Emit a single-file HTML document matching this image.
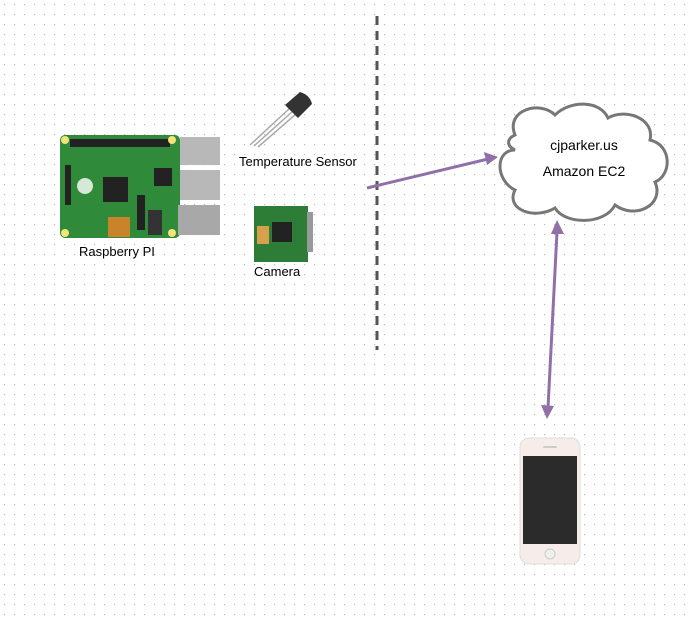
<!DOCTYPE html>
<html><head><style>
body{margin:0;background:#fff;}
svg{display:block;font-family:"Liberation Sans",Arial,sans-serif;}
</style></head><body>
<svg width="691" height="622" viewBox="0 0 691 622">
<defs>
<pattern id="g" width="10" height="10" patternUnits="userSpaceOnUse"><rect x="4" y="4" width="1.2" height="1.2" fill="#bdbdbd"/></pattern>
</defs>
<rect width="691" height="622" fill="#fff"/>
<rect width="691" height="622" fill="url(#g)"/>
<!-- Raspberry Pi -->
<rect x="60" y="135" width="120" height="103" rx="5" fill="#2f8a3a"/>
<rect x="70" y="139" width="100" height="8" fill="#222"/>
<rect x="180" y="137" width="40" height="28" fill="#b8b8b8"/>
<rect x="180" y="170" width="40" height="30" fill="#b8b8b8"/>
<rect x="178" y="205" width="42" height="30" fill="#a8a8a8"/>
<rect x="103" y="177" width="25" height="25" fill="#222"/>
<rect x="154" y="168" width="18" height="18" fill="#222"/>
<rect x="65" y="165" width="6" height="40" fill="#222"/>
<rect x="108" y="217" width="22" height="20" fill="#c9832b"/>
<rect x="137" y="195" width="8" height="35" fill="#222"/>
<rect x="148" y="210" width="14" height="25" fill="#333"/>
<circle cx="85" cy="186" r="8" fill="#d8e8d8"/>
<circle cx="65" cy="140" r="4" fill="#f3e37a"/><circle cx="172" cy="140" r="4" fill="#f3e37a"/>
<circle cx="65" cy="233" r="4" fill="#f3e37a"/><circle cx="172" cy="233" r="4" fill="#f3e37a"/>
<text x="79" y="256" font-size="13">Raspberry PI</text>
<!-- Sensor -->
<line x1="250" y1="145" x2="290" y2="108" stroke="#aaa" stroke-width="1.5"/>
<line x1="254" y1="146" x2="293" y2="111" stroke="#aaa" stroke-width="1.5"/>
<line x1="258" y1="147" x2="296" y2="114" stroke="#aaa" stroke-width="1.5"/>
<path d="M285 105 L300 92 Q310 95 312 104 L298 118 Z" fill="#333"/>
<text x="239" y="166" font-size="13">Temperature Sensor</text>
<!-- Camera -->
<rect x="254" y="206" width="54" height="56" fill="#2e7d36"/>
<rect x="307" y="212" width="6" height="40" fill="#999"/>
<rect x="257" y="226" width="12" height="18" fill="#d6a14a"/>
<rect x="272" y="222" width="20" height="20" fill="#222"/>
<text x="254" y="276" font-size="13">Camera</text>
<!-- dashed line -->
<line x1="377" y1="16" x2="377" y2="350" stroke="#555" stroke-width="3" stroke-dasharray="9,6"/>
<!-- arrows -->
<line x1="367" y1="188" x2="488" y2="159" stroke="#9070a8" stroke-width="3"/>
<path d="M498 157 L484 152 L487 165 Z" fill="#9070a8"/>
<line x1="557" y1="232" x2="548" y2="408" stroke="#9070a8" stroke-width="3"/>
<path d="M557 220 L551 234 L564 234 Z" fill="#9070a8"/>
<path d="M547 419 L541 405 L554 406 Z" fill="#9070a8"/>
<!-- cloud -->
<path d="M515 135 C505 110 540 100 555 115 C570 100 600 100 608 118 C625 108 655 118 650 140 C672 145 672 175 655 182 C665 205 635 220 615 205 C605 225 565 225 555 208 C535 220 505 210 515 190 C495 180 495 150 515 150 C505 145 508 138 515 135 Z" fill="#fff" stroke="#777" stroke-width="3"/>
<text x="584" y="150" font-size="14" text-anchor="middle">cjparker.us</text>
<text x="584" y="176" font-size="14" text-anchor="middle">Amazon EC2</text>
<!-- phone -->
<rect x="520" y="438" width="60" height="126" rx="9" fill="#f6ecea" stroke="#ddd"/>
<rect x="523" y="456" width="54" height="88" fill="#2b2b2b"/>
<circle cx="550" cy="554" r="5" fill="#eee" stroke="#ccc"/>
<rect x="543" y="446" width="14" height="2" rx="1" fill="#ccc"/>
</svg>
</body></html>
